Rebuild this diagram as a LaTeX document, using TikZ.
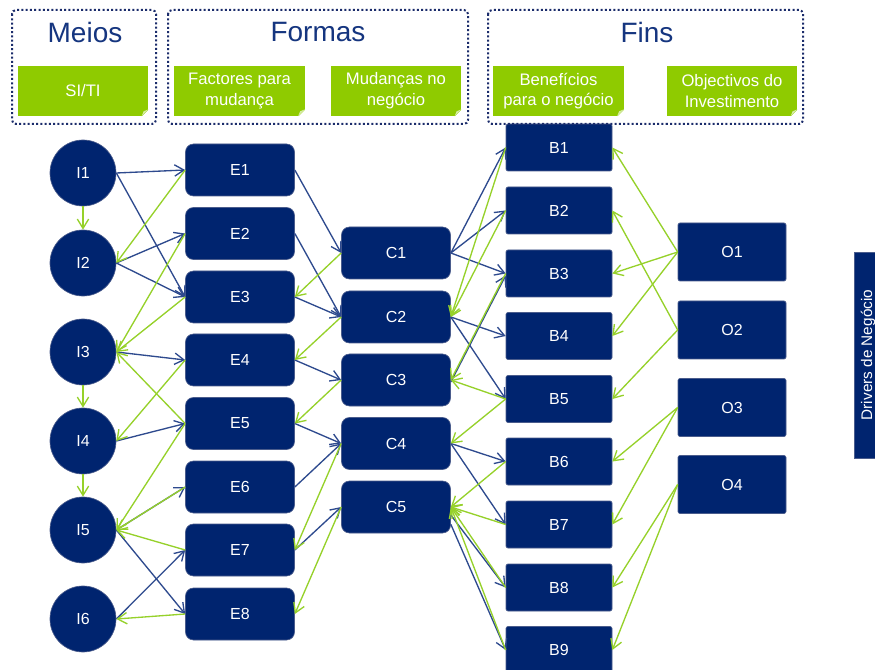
\documentclass[tikz,border=0pt]{standalone}
\usepackage{fontspec}
\setmainfont{Liberation Sans}
\usetikzlibrary{arrows.meta,calc}

\definecolor{navy}{HTML}{00246F}
\definecolor{navyedge}{HTML}{4A5C8C}
\definecolor{bluearrow}{HTML}{2E4A8E}
\definecolor{limearrow}{HTML}{96D12A}
\definecolor{limebox}{HTML}{8FCB00}
\definecolor{limeflap}{HTML}{D4EBA0}
\definecolor{titleblue}{HTML}{15357F}
\definecolor{framedot}{HTML}{1B2C6B}

\begin{document}
\begin{tikzpicture}[x=0.75pt,y=-0.75pt,
  every node/.style={text=white, font=\fontsize{12}{14}\selectfont},
  inode/.style={circle, fill=navy, draw=navyedge, line width=0.5pt,
    minimum size=49.5pt, inner sep=0pt},
  ebox/.style={rectangle, rounded corners=6pt, fill=navy, draw=navyedge,
    line width=0.5pt, minimum width=81.75pt, minimum height=39pt},
  bbox/.style={rectangle, rounded corners=1.5pt, fill=navy, draw=navyedge,
    line width=0.5pt, minimum width=79.5pt, minimum height=35.25pt},
  obox/.style={bbox, minimum width=81pt, minimum height=43.5pt},
  greenbox/.style={rectangle, fill=limebox, minimum width=98pt,
    minimum height=37.5pt, align=center, inner sep=1pt,
    font=\fontsize{12.5}{15.5}\selectfont},
  grouptitle/.style={text=titleblue, font=\fontsize{21}{24}\selectfont},
  groupframe/.style={draw=framedot, line width=1.5pt,
    dash pattern=on 1.5pt off 1.7pt, rounded corners=3pt},
  fwd/.style={draw=bluearrow, line width=1pt,
    -{Straight Barb[length=7pt,width=8.5pt]}},
  back/.style={draw=limearrow, line width=1pt,
    -{Straight Barb[length=7pt,width=8.5pt]}}
]
\clip (0,0) rectangle (875,670);
\fill[white] (0,0) rectangle (875,670);

% ---- means: IS/IT investments
\foreach \n/\y in {1/173, 2/263, 3/352, 4/441, 5/530, 6/619}
  \node[inode] (I\n) at (83,\y) {I\n};

% ---- enablers
\foreach \n/\y in {1/170, 2/233.5, 3/297, 4/360, 5/423.5, 6/487, 7/550, 8/614}
  \node[ebox] (E\n) at (240,\y) {E\n};

% ---- business changes
\foreach \n/\y in {1/253, 2/317, 3/380, 4/443.5, 5/507}
  \node[ebox] (C\n) at (396,\y) {C\n};

% ---- business benefits
\foreach \n/\y in {1/147.5, 2/210.5, 3/273.5, 4/336, 5/399, 6/461.5, 7/524.5, 8/587.5, 9/650}
  \node[bbox] (B\n) at (559,\y) {B\n};

% ---- investment objectives
\foreach \n/\y in {1/252, 2/330, 3/407.5, 4/484.5}
  \node[obox] (O\n) at (732,\y) {O\n};

% ---- business drivers bar
\node[rectangle, fill=navy, draw=navyedge, line width=0.5pt, rotate=90,
  minimum width=154.5pt, minimum height=21pt, inner sep=0pt,
  font=\fontsize{11.5}{13}\selectfont] (drivers) at (868,355) {Drivers de Negócio};

% ---- group headers
\draw[groupframe] (12,10) rectangle (156,124);
\draw[groupframe] (168,10) rectangle (468,124);
\draw[groupframe] (488,10) rectangle (803,124);
\node[grouptitle] (tmeios) at (85,32) {Meios};
\node[grouptitle] (tformas) at (318,32) {Formas};
\node[grouptitle] (tfins) at (647,32) {Fins};

\node[greenbox] (g1) at (83,91) {SI/TI};
\node[greenbox] (g2) at (239.5,91) {Factores para\\mudança};
\node[greenbox] (g3) at (396,91) {Mudanças no\\negócio};
\node[greenbox] (g4) at (558.5,91) {Benefícios\\para o negócio};
\node[greenbox] (g5) at (732,91) {Objectivos do\\Investimento};

% folded corner on each green label
\foreach \g in {g1,g2,g3,g4,g5}{
  \fill[white] ($(\g.south east)+(-7,0.5)$) -- ($(\g.south east)+(0.5,-7)$)
    -- ($(\g.south east)+(0.5,0.5)$) -- cycle;
  \fill[limeflap] ($(\g.south east)+(-7,0)$) -- ($(\g.south east)+(0,-7)$)
    -- ($(\g.south east)+(-5,-5)$) -- cycle;
}

% ---- forward links (blue)
\foreach \a/\b in {I1/E1, I1/E3, I2/E2, I2/E3, I3/E4, I4/E5, I5/E6, I5/E8, I6/E7,
                   E1/C1, E2/C2, E3/C2, E4/C3, E5/C4, E6/C4, E7/C5,
                   C1/B1, C1/B2, C1/B3, C2/B4, C2/B5, C4/B6, C4/B7}
  \draw[fwd] (\a.east) -- (\b.west);
\draw[fwd] ([yshift=-1.5pt]C3.east) -- ([yshift=-1.5pt]B3.west);
\draw[fwd] ([yshift=-6pt]C5.east) -- (B8.west);
\draw[fwd] ([yshift=-13pt]C5.east) -- (B9.west);

% ---- backward links (green)
\foreach \a/\b in {I1/I2, I3/I4, I4/I5}
  \draw[back] (\a.south) -- (\b.north);
\foreach \a/\b in {E1/I2, E2/I3, E3/I3, E5/I3, E4/I4, E5/I5, E6/I5, E7/I5, E8/I6,
                   C1/E3, C2/E4, C3/E5, C4/E7, C5/E8,
                   B1/C2, B2/C2, B3/C3, B5/C3, B5/C4, B6/C5, B7/C5, B8/C5, B9/C5,
                   O1/B1, O1/B3, O1/B4, O2/B2, O2/B5, O3/B6, O3/B7, O4/B8, O4/B9}
  \draw[back] (\a.west) -- (\b.east);
\end{tikzpicture}
\end{document}
